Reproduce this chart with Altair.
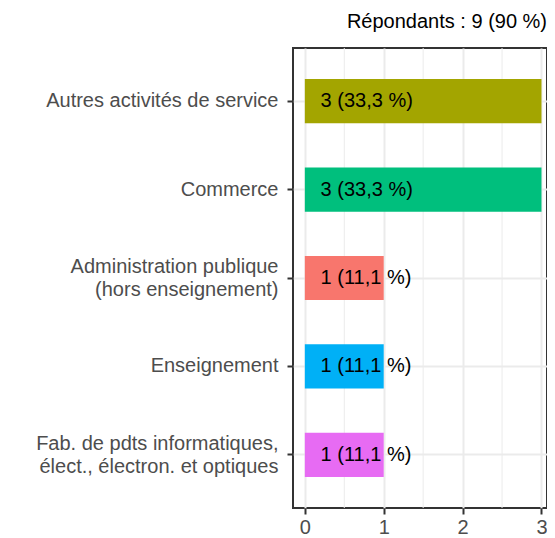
import altair as alt
import pandas as pd

categories = [
    "Autres activités de service",
    "Commerce",
    "Administration publique\n(hors enseignement)",
    "Enseignement",
    "Fab. de pdts informatiques,\nélect., électron. et optiques",
]
counts = [3, 3, 1, 1, 1]
labels = ["3 (33,3 %)", "3 (33,3 %)", "1 (11,1 %)", "1 (11,1 %)", "1 (11,1 %)"]
colors = ["#A3A500", "#00BF7D", "#F8766D", "#00B0F6", "#E76BF3"]
x_ticks = [0, 1, 2, 3]
minor_ticks = [0.5, 1.5, 2.5]
title_text = "Répondants : 9 (90 %)"

df = pd.DataFrame({"cat": categories, "n": counts, "lab": labels})
minor_df = pd.DataFrame({"m": minor_ticks})

FONT = "Liberation Sans"

xscale = alt.Scale(domain=[-0.15, 3.07], nice=False, zero=False)
yscale = alt.Scale(domain=categories, paddingInner=0.5, paddingOuter=0.35)

minor = alt.Chart(minor_df).mark_rule(color="#EBEBEB", strokeWidth=1).encode(
    x=alt.X("m:Q", scale=xscale)
)

bars = alt.Chart(df).mark_bar().encode(
    x=alt.X(
        "n:Q",
        scale=xscale,
        axis=alt.Axis(
            values=x_ticks,
            format="d",
            title=None,
            grid=True,
            gridColor="#EBEBEB",
            gridWidth=2,
            domain=False,
            ticks=True,
            tickColor="#333333",
            tickWidth=2,
            tickSize=6,
            labelPadding=3,
            labelFont=FONT,
            labelFontSize=20,
            labelColor="#4D4D4D",
            labelFlush=False,
        ),
    ),
    y=alt.Y(
        "cat:N",
        scale=yscale,
        sort=categories,
        axis=alt.Axis(
            title=None,
            bandPosition=0.5,
            grid=True,
            gridColor="#EBEBEB",
            gridWidth=2,
            domain=False,
            tickColor="#333333",
            tickWidth=2,
            tickSize=6,
            labelPadding=9,
            labelFont=FONT,
            labelFontSize=20,
            labelColor="#4D4D4D",
            labelLineHeight=23,
            labelExpr="split(datum.label, '\\n')",
            labelOffset={
                "condition": {"test": "indexof(datum.value, '\\n') >= 0", "value": -11},
                "value": 0,
            },
            labelLimit=400,
        ),
    ),
    color=alt.Color("cat:N", scale=alt.Scale(domain=categories, range=colors), legend=None),
)

text = alt.Chart(df).mark_text(
    align="left", baseline="middle", font=FONT, fontSize=20, color="black"
).encode(
    x=alt.datum(0.2, scale=xscale),
    y=alt.Y("cat:N", scale=yscale, sort=categories),
    text="lab:N",
)

chart = (
    alt.layer(minor, bars, text)
    .properties(
        width=254,
        height=460,
        title=alt.TitleParams(
            title_text,
            anchor="end",
            font=FONT,
            fontSize=20,
            fontWeight="normal",
            color="black",
            baseline="alphabetic",
            offset=0,
        ),
        autosize=alt.AutoSizeParams(type="none"),
        padding={"left": 285, "top": 40, "right": 0, "bottom": 30},
    )
    .configure_view(stroke="#333333", strokeWidth=2)
)

chart.save("out.html", embed_options={"renderer": "svg", "actions": False})
